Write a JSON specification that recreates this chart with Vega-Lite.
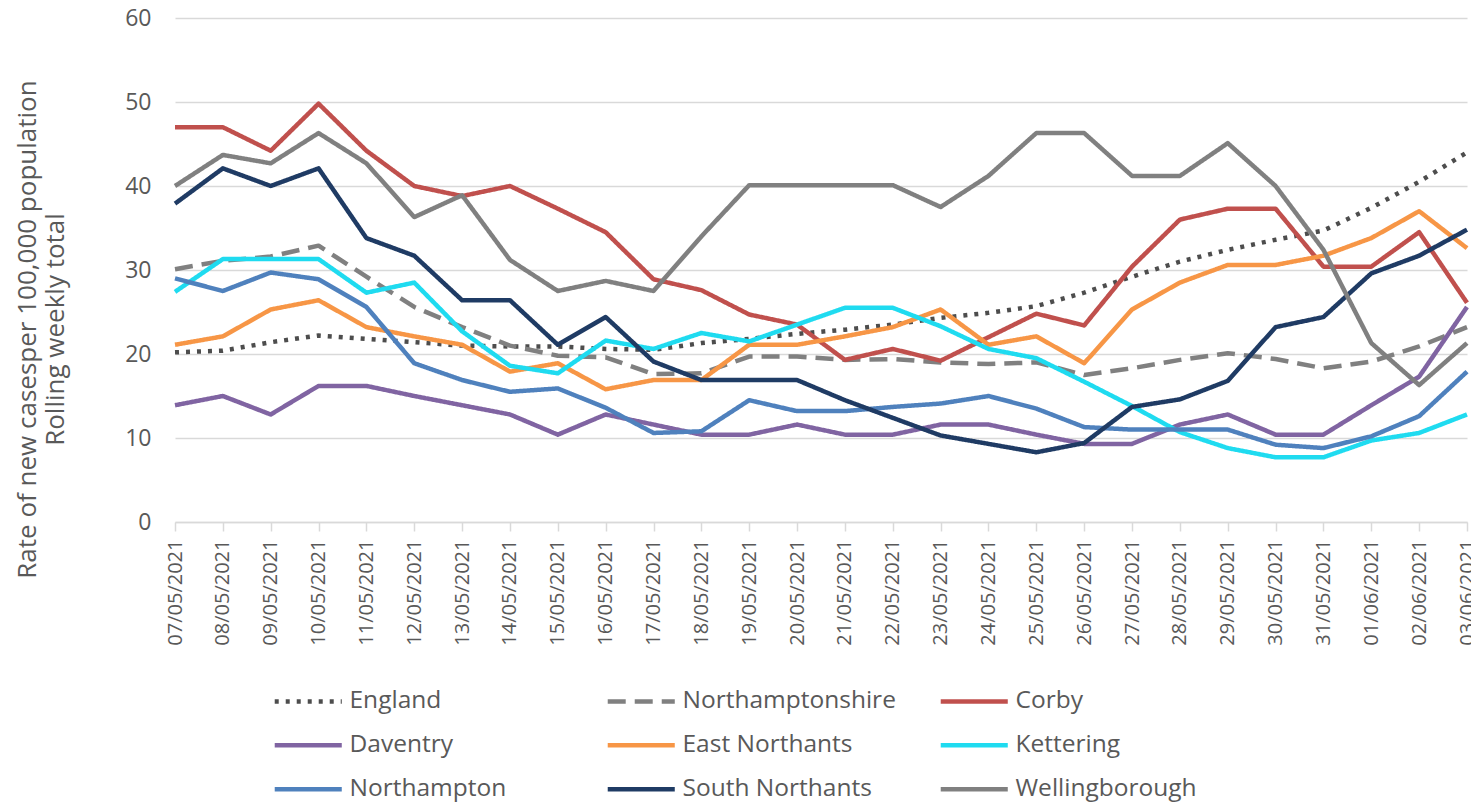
{
  "$schema": "https://vega.github.io/schema/vega-lite/v6.json",
  "width": 1292,
  "height": 504,
  "autosize": {"type": "none"},
  "padding": {"left": 175, "top": 18, "right": 4, "bottom": 281},
  "background": "white",
  "config": {
    "view": {"stroke": null},
    "font": "Open Sans",
    "legend": {
      "orient": "none",
      "legendX": 121,
      "legendY": 671,
      "direction": "horizontal",
      "columns": 3,
      "gridAlign": "all",
      "symbolType": "M-4,0H4",
      "symbolSize": 281,
      "symbolStrokeWidth": 4.5,
      "labelFontSize": 24.5,
      "labelFont": "Open Sans",
      "labelColor": "#595959",
      "labelOffset": 29,
      "columnPadding": 35,
      "rowPadding": 19,
      "labelLimit": 400
    }
  },
  "data": {"values": [
    {"area":"England","date":"07/05/2021","value":20.2},{"area":"England","date":"08/05/2021","value":20.4},{"area":"England","date":"09/05/2021","value":21.4},{"area":"England","date":"10/05/2021","value":22.2},{"area":"England","date":"11/05/2021","value":21.8},{"area":"England","date":"12/05/2021","value":21.4},{"area":"England","date":"13/05/2021","value":21.0},{"area":"England","date":"14/05/2021","value":20.9},{"area":"England","date":"15/05/2021","value":20.9},{"area":"England","date":"16/05/2021","value":20.6},{"area":"England","date":"17/05/2021","value":20.5},{"area":"England","date":"18/05/2021","value":21.3},{"area":"England","date":"19/05/2021","value":21.8},{"area":"England","date":"20/05/2021","value":22.4},{"area":"England","date":"21/05/2021","value":22.9},{"area":"England","date":"22/05/2021","value":23.5},{"area":"England","date":"23/05/2021","value":24.3},{"area":"England","date":"24/05/2021","value":24.9},{"area":"England","date":"25/05/2021","value":25.7},{"area":"England","date":"26/05/2021","value":27.3},{"area":"England","date":"27/05/2021","value":29.2},{"area":"England","date":"28/05/2021","value":31.0},{"area":"England","date":"29/05/2021","value":32.4},{"area":"England","date":"30/05/2021","value":33.6},{"area":"England","date":"31/05/2021","value":34.7},{"area":"England","date":"01/06/2021","value":37.4},{"area":"England","date":"02/06/2021","value":40.5},{"area":"England","date":"03/06/2021","value":44.0},
    {"area":"Northamptonshire","date":"07/05/2021","value":30.1},{"area":"Northamptonshire","date":"08/05/2021","value":31.1},{"area":"Northamptonshire","date":"09/05/2021","value":31.6},{"area":"Northamptonshire","date":"10/05/2021","value":32.9},{"area":"Northamptonshire","date":"11/05/2021","value":29.2},{"area":"Northamptonshire","date":"12/05/2021","value":25.6},{"area":"Northamptonshire","date":"13/05/2021","value":23.2},{"area":"Northamptonshire","date":"14/05/2021","value":21.0},{"area":"Northamptonshire","date":"15/05/2021","value":19.8},{"area":"Northamptonshire","date":"16/05/2021","value":19.6},{"area":"Northamptonshire","date":"17/05/2021","value":17.6},{"area":"Northamptonshire","date":"18/05/2021","value":17.7},{"area":"Northamptonshire","date":"19/05/2021","value":19.7},{"area":"Northamptonshire","date":"20/05/2021","value":19.7},{"area":"Northamptonshire","date":"21/05/2021","value":19.3},{"area":"Northamptonshire","date":"22/05/2021","value":19.4},{"area":"Northamptonshire","date":"23/05/2021","value":19.0},{"area":"Northamptonshire","date":"24/05/2021","value":18.8},{"area":"Northamptonshire","date":"25/05/2021","value":19.0},{"area":"Northamptonshire","date":"26/05/2021","value":17.5},{"area":"Northamptonshire","date":"27/05/2021","value":18.3},{"area":"Northamptonshire","date":"28/05/2021","value":19.3},{"area":"Northamptonshire","date":"29/05/2021","value":20.1},{"area":"Northamptonshire","date":"30/05/2021","value":19.4},{"area":"Northamptonshire","date":"31/05/2021","value":18.3},{"area":"Northamptonshire","date":"01/06/2021","value":19.1},{"area":"Northamptonshire","date":"02/06/2021","value":20.9},{"area":"Northamptonshire","date":"03/06/2021","value":23.2},
    {"area":"Corby","date":"07/05/2021","value":47.0},{"area":"Corby","date":"08/05/2021","value":47.0},{"area":"Corby","date":"09/05/2021","value":44.2},{"area":"Corby","date":"10/05/2021","value":49.8},{"area":"Corby","date":"11/05/2021","value":44.2},{"area":"Corby","date":"12/05/2021","value":40.0},{"area":"Corby","date":"13/05/2021","value":38.8},{"area":"Corby","date":"14/05/2021","value":40.0},{"area":"Corby","date":"15/05/2021","value":37.3},{"area":"Corby","date":"16/05/2021","value":34.5},{"area":"Corby","date":"17/05/2021","value":28.9},{"area":"Corby","date":"18/05/2021","value":27.6},{"area":"Corby","date":"19/05/2021","value":24.7},{"area":"Corby","date":"20/05/2021","value":23.5},{"area":"Corby","date":"21/05/2021","value":19.3},{"area":"Corby","date":"22/05/2021","value":20.6},{"area":"Corby","date":"23/05/2021","value":19.2},{"area":"Corby","date":"24/05/2021","value":22.0},{"area":"Corby","date":"25/05/2021","value":24.8},{"area":"Corby","date":"26/05/2021","value":23.4},{"area":"Corby","date":"27/05/2021","value":30.4},{"area":"Corby","date":"28/05/2021","value":36.0},{"area":"Corby","date":"29/05/2021","value":37.3},{"area":"Corby","date":"30/05/2021","value":37.3},{"area":"Corby","date":"31/05/2021","value":30.4},{"area":"Corby","date":"01/06/2021","value":30.4},{"area":"Corby","date":"02/06/2021","value":34.5},{"area":"Corby","date":"03/06/2021","value":26.1},
    {"area":"Daventry","date":"07/05/2021","value":13.9},{"area":"Daventry","date":"08/05/2021","value":15.0},{"area":"Daventry","date":"09/05/2021","value":12.8},{"area":"Daventry","date":"10/05/2021","value":16.2},{"area":"Daventry","date":"11/05/2021","value":16.2},{"area":"Daventry","date":"12/05/2021","value":15.0},{"area":"Daventry","date":"13/05/2021","value":13.9},{"area":"Daventry","date":"14/05/2021","value":12.8},{"area":"Daventry","date":"15/05/2021","value":10.4},{"area":"Daventry","date":"16/05/2021","value":12.8},{"area":"Daventry","date":"17/05/2021","value":11.6},{"area":"Daventry","date":"18/05/2021","value":10.4},{"area":"Daventry","date":"19/05/2021","value":10.4},{"area":"Daventry","date":"20/05/2021","value":11.6},{"area":"Daventry","date":"21/05/2021","value":10.4},{"area":"Daventry","date":"22/05/2021","value":10.4},{"area":"Daventry","date":"23/05/2021","value":11.6},{"area":"Daventry","date":"24/05/2021","value":11.6},{"area":"Daventry","date":"25/05/2021","value":10.4},{"area":"Daventry","date":"26/05/2021","value":9.3},{"area":"Daventry","date":"27/05/2021","value":9.3},{"area":"Daventry","date":"28/05/2021","value":11.6},{"area":"Daventry","date":"29/05/2021","value":12.8},{"area":"Daventry","date":"30/05/2021","value":10.4},{"area":"Daventry","date":"31/05/2021","value":10.4},{"area":"Daventry","date":"01/06/2021","value":13.9},{"area":"Daventry","date":"02/06/2021","value":17.3},{"area":"Daventry","date":"03/06/2021","value":25.6},
    {"area":"East Northants","date":"07/05/2021","value":21.1},{"area":"East Northants","date":"08/05/2021","value":22.1},{"area":"East Northants","date":"09/05/2021","value":25.3},{"area":"East Northants","date":"10/05/2021","value":26.4},{"area":"East Northants","date":"11/05/2021","value":23.2},{"area":"East Northants","date":"12/05/2021","value":22.1},{"area":"East Northants","date":"13/05/2021","value":21.1},{"area":"East Northants","date":"14/05/2021","value":17.9},{"area":"East Northants","date":"15/05/2021","value":18.9},{"area":"East Northants","date":"16/05/2021","value":15.8},{"area":"East Northants","date":"17/05/2021","value":16.9},{"area":"East Northants","date":"18/05/2021","value":16.9},{"area":"East Northants","date":"19/05/2021","value":21.1},{"area":"East Northants","date":"20/05/2021","value":21.1},{"area":"East Northants","date":"21/05/2021","value":22.1},{"area":"East Northants","date":"22/05/2021","value":23.2},{"area":"East Northants","date":"23/05/2021","value":25.3},{"area":"East Northants","date":"24/05/2021","value":21.1},{"area":"East Northants","date":"25/05/2021","value":22.1},{"area":"East Northants","date":"26/05/2021","value":18.9},{"area":"East Northants","date":"27/05/2021","value":25.3},{"area":"East Northants","date":"28/05/2021","value":28.5},{"area":"East Northants","date":"29/05/2021","value":30.6},{"area":"East Northants","date":"30/05/2021","value":30.6},{"area":"East Northants","date":"31/05/2021","value":31.7},{"area":"East Northants","date":"01/06/2021","value":33.8},{"area":"East Northants","date":"02/06/2021","value":37.0},{"area":"East Northants","date":"03/06/2021","value":32.6},
    {"area":"Kettering","date":"07/05/2021","value":27.4},{"area":"Kettering","date":"08/05/2021","value":31.3},{"area":"Kettering","date":"09/05/2021","value":31.3},{"area":"Kettering","date":"10/05/2021","value":31.3},{"area":"Kettering","date":"11/05/2021","value":27.3},{"area":"Kettering","date":"12/05/2021","value":28.5},{"area":"Kettering","date":"13/05/2021","value":22.7},{"area":"Kettering","date":"14/05/2021","value":18.6},{"area":"Kettering","date":"15/05/2021","value":17.7},{"area":"Kettering","date":"16/05/2021","value":21.6},{"area":"Kettering","date":"17/05/2021","value":20.6},{"area":"Kettering","date":"18/05/2021","value":22.5},{"area":"Kettering","date":"19/05/2021","value":21.5},{"area":"Kettering","date":"20/05/2021","value":23.5},{"area":"Kettering","date":"21/05/2021","value":25.5},{"area":"Kettering","date":"22/05/2021","value":25.5},{"area":"Kettering","date":"23/05/2021","value":23.3},{"area":"Kettering","date":"24/05/2021","value":20.6},{"area":"Kettering","date":"25/05/2021","value":19.5},{"area":"Kettering","date":"26/05/2021","value":16.7},{"area":"Kettering","date":"27/05/2021","value":13.8},{"area":"Kettering","date":"28/05/2021","value":10.7},{"area":"Kettering","date":"29/05/2021","value":8.8},{"area":"Kettering","date":"30/05/2021","value":7.7},{"area":"Kettering","date":"31/05/2021","value":7.7},{"area":"Kettering","date":"01/06/2021","value":9.7},{"area":"Kettering","date":"02/06/2021","value":10.6},{"area":"Kettering","date":"03/06/2021","value":12.8},
    {"area":"Northampton","date":"07/05/2021","value":29.0},{"area":"Northampton","date":"08/05/2021","value":27.5},{"area":"Northampton","date":"09/05/2021","value":29.7},{"area":"Northampton","date":"10/05/2021","value":28.9},{"area":"Northampton","date":"11/05/2021","value":25.6},{"area":"Northampton","date":"12/05/2021","value":18.9},{"area":"Northampton","date":"13/05/2021","value":16.9},{"area":"Northampton","date":"14/05/2021","value":15.5},{"area":"Northampton","date":"15/05/2021","value":15.9},{"area":"Northampton","date":"16/05/2021","value":13.6},{"area":"Northampton","date":"17/05/2021","value":10.6},{"area":"Northampton","date":"18/05/2021","value":10.8},{"area":"Northampton","date":"19/05/2021","value":14.5},{"area":"Northampton","date":"20/05/2021","value":13.2},{"area":"Northampton","date":"21/05/2021","value":13.2},{"area":"Northampton","date":"22/05/2021","value":13.7},{"area":"Northampton","date":"23/05/2021","value":14.1},{"area":"Northampton","date":"24/05/2021","value":15.0},{"area":"Northampton","date":"25/05/2021","value":13.5},{"area":"Northampton","date":"26/05/2021","value":11.3},{"area":"Northampton","date":"27/05/2021","value":11.0},{"area":"Northampton","date":"28/05/2021","value":11.0},{"area":"Northampton","date":"29/05/2021","value":11.0},{"area":"Northampton","date":"30/05/2021","value":9.2},{"area":"Northampton","date":"31/05/2021","value":8.8},{"area":"Northampton","date":"01/06/2021","value":10.2},{"area":"Northampton","date":"02/06/2021","value":12.6},{"area":"Northampton","date":"03/06/2021","value":17.9},
    {"area":"South Northants","date":"07/05/2021","value":37.9},{"area":"South Northants","date":"08/05/2021","value":42.1},{"area":"South Northants","date":"09/05/2021","value":40.0},{"area":"South Northants","date":"10/05/2021","value":42.1},{"area":"South Northants","date":"11/05/2021","value":33.8},{"area":"South Northants","date":"12/05/2021","value":31.7},{"area":"South Northants","date":"13/05/2021","value":26.4},{"area":"South Northants","date":"14/05/2021","value":26.4},{"area":"South Northants","date":"15/05/2021","value":21.1},{"area":"South Northants","date":"16/05/2021","value":24.4},{"area":"South Northants","date":"17/05/2021","value":19.1},{"area":"South Northants","date":"18/05/2021","value":16.9},{"area":"South Northants","date":"19/05/2021","value":16.9},{"area":"South Northants","date":"20/05/2021","value":16.9},{"area":"South Northants","date":"21/05/2021","value":14.5},{"area":"South Northants","date":"22/05/2021","value":12.4},{"area":"South Northants","date":"23/05/2021","value":10.3},{"area":"South Northants","date":"24/05/2021","value":9.3},{"area":"South Northants","date":"25/05/2021","value":8.3},{"area":"South Northants","date":"26/05/2021","value":9.4},{"area":"South Northants","date":"27/05/2021","value":13.7},{"area":"South Northants","date":"28/05/2021","value":14.6},{"area":"South Northants","date":"29/05/2021","value":16.8},{"area":"South Northants","date":"30/05/2021","value":23.2},{"area":"South Northants","date":"31/05/2021","value":24.4},{"area":"South Northants","date":"01/06/2021","value":29.6},{"area":"South Northants","date":"02/06/2021","value":31.7},{"area":"South Northants","date":"03/06/2021","value":34.8},
    {"area":"Wellingborough","date":"07/05/2021","value":40.0},{"area":"Wellingborough","date":"08/05/2021","value":43.7},{"area":"Wellingborough","date":"09/05/2021","value":42.7},{"area":"Wellingborough","date":"10/05/2021","value":46.3},{"area":"Wellingborough","date":"11/05/2021","value":42.7},{"area":"Wellingborough","date":"12/05/2021","value":36.3},{"area":"Wellingborough","date":"13/05/2021","value":38.9},{"area":"Wellingborough","date":"14/05/2021","value":31.2},{"area":"Wellingborough","date":"15/05/2021","value":27.5},{"area":"Wellingborough","date":"16/05/2021","value":28.7},{"area":"Wellingborough","date":"17/05/2021","value":27.5},{"area":"Wellingborough","date":"18/05/2021","value":34.0},{"area":"Wellingborough","date":"19/05/2021","value":40.1},{"area":"Wellingborough","date":"20/05/2021","value":40.1},{"area":"Wellingborough","date":"21/05/2021","value":40.1},{"area":"Wellingborough","date":"22/05/2021","value":40.1},{"area":"Wellingborough","date":"23/05/2021","value":37.5},{"area":"Wellingborough","date":"24/05/2021","value":41.2},{"area":"Wellingborough","date":"25/05/2021","value":46.3},{"area":"Wellingborough","date":"26/05/2021","value":46.3},{"area":"Wellingborough","date":"27/05/2021","value":41.2},{"area":"Wellingborough","date":"28/05/2021","value":41.2},{"area":"Wellingborough","date":"29/05/2021","value":45.1},{"area":"Wellingborough","date":"30/05/2021","value":40.0},{"area":"Wellingborough","date":"31/05/2021","value":32.4},{"area":"Wellingborough","date":"01/06/2021","value":21.3},{"area":"Wellingborough","date":"02/06/2021","value":16.3},{"area":"Wellingborough","date":"03/06/2021","value":21.3}
  ]},
  "mark": {"type": "line", "strokeWidth": 4.5, "strokeJoin": "round"},
  "encoding": {
    "x": {
      "field": "date", "type": "ordinal",
      "sort": ["07/05/2021","08/05/2021","09/05/2021","10/05/2021","11/05/2021","12/05/2021","13/05/2021","14/05/2021","15/05/2021","16/05/2021","17/05/2021","18/05/2021","19/05/2021","20/05/2021","21/05/2021","22/05/2021","23/05/2021","24/05/2021","25/05/2021","26/05/2021","27/05/2021","28/05/2021","29/05/2021","30/05/2021","31/05/2021","01/06/2021","02/06/2021","03/06/2021"],
      "scale": {"type": "point", "padding": 0},
      "axis": {
        "title": null, "labelAngle": -90, "labelFontSize": 20, "labelColor": "#595959",
        "domainColor": "#D9D9D9", "domainWidth": 1.5, "tickColor": "#D9D9D9", "tickWidth": 1.5,
        "tickSize": 9, "labelPadding": 8, "grid": false, "labelOverlap": false, "labelBound": false
      }
    },
    "y": {
      "field": "value", "type": "quantitative",
      "scale": {"domain": [0, 60], "nice": false},
      "axis": {
        "title": ["Rate of new casesper 100,000 population", "Rolling weekly total"],
        "values": [0, 10, 20, 30, 40, 50, 60],
        "grid": true, "gridColor": "#D9D9D9", "gridWidth": 1.5,
        "domain": false, "ticks": false,
        "labelFontSize": 23, "labelColor": "#595959", "labelPadding": 24,
        "titleFontSize": 26, "titleFontWeight": "normal", "titleColor": "#595959",
        "titleAngle": -90, "titleX": -161, "titleY": 311, "titleAlign": "center",
        "titleBaseline": "top", "titleLineHeight": 28
      }
    },
    "color": {
      "field": "area", "type": "nominal",
      "scale": {
        "domain": ["England","Northamptonshire","Corby","Daventry","East Northants","Kettering","Northampton","South Northants","Wellingborough"],
        "range": ["#4D4D4D","#808080","#C0504D","#8064A2","#F79646","#1FDBF0","#4F81BD","#1F3B64","#808080"]
      },
      "legend": {"title": null}
    },
    "strokeDash": {
      "field": "area", "type": "nominal",
      "scale": {
        "domain": ["England","Northamptonshire","Corby","Daventry","East Northants","Kettering","Northampton","South Northants","Wellingborough"],
        "range": [[4, 7], [18, 9], [1, 0], [1, 0], [1, 0], [1, 0], [1, 0], [1, 0], [1, 0]]
      },
      "legend": {"title": null}
    }
  }
}
